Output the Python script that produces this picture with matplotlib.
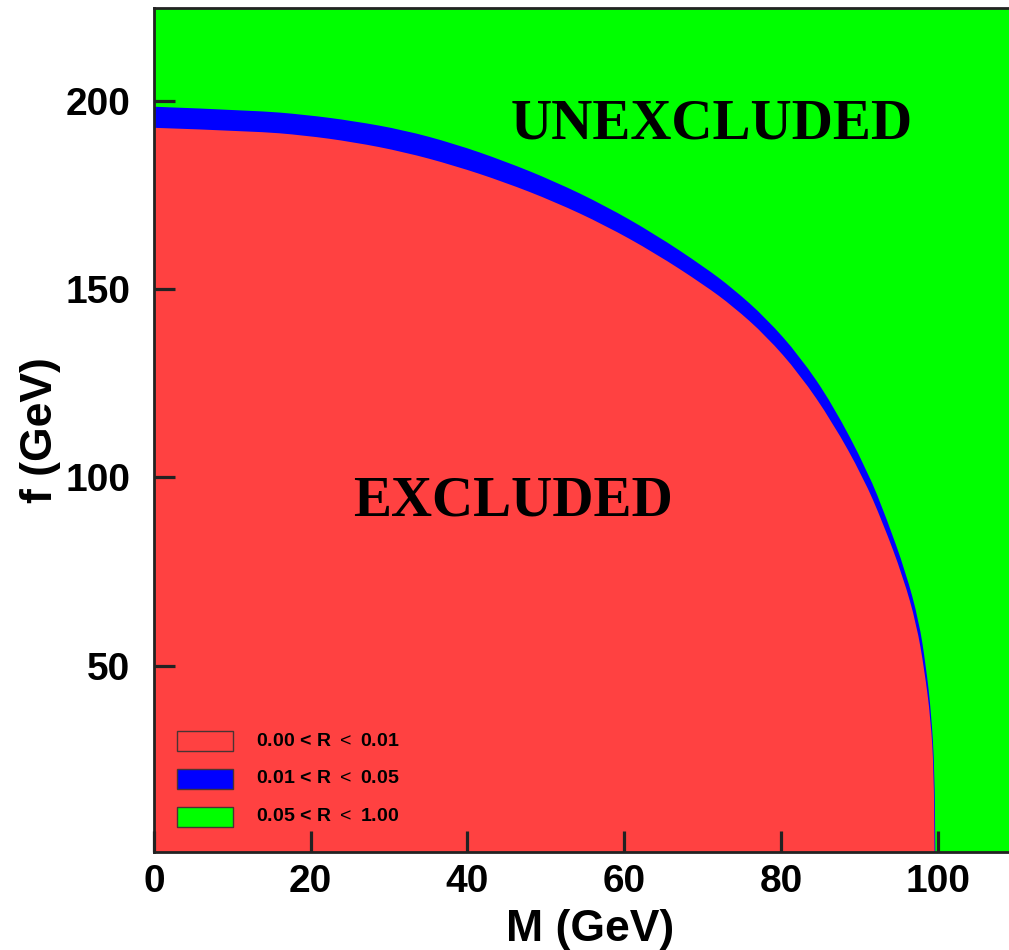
import numpy as np
import matplotlib
matplotlib.use("Agg")
import matplotlib.pyplot as plt
from matplotlib.patches import Rectangle, PathPatch
from matplotlib.path import Path

plt.rcParams["mathtext.fontset"] = "custom"
plt.rcParams["mathtext.rm"] = "Liberation Sans"

# Contour where R = 0.01 (edge of the excluded region)
M_r001 = [0, 12.8, 19.2, 25.5, 31.9, 38.3, 44.7, 51.1, 57.5, 63.9, 70.2, 73.9,
          78.1, 82.4, 86.6, 90.5, 93.0, 95.6, 97.3, 98.3, 99.1, 99.5, 99.6, 99.6]
f_r001 = [192.8, 191.9, 190.8, 189.0, 186.4, 182.8, 178.4, 173.2, 167.0, 159.6,
          151.1, 145.4, 137.6, 127.4, 114.6, 100.0, 88.0, 73.5, 61.0, 49.0,
          36.0, 22.4, 1.2, 0.0]

# Contour where R = 0.05
M_r005 = [0, 12.8, 19.2, 25.5, 31.9, 38.3, 44.7, 51.1, 57.5, 63.9, 70.2, 73.9,
          78.1, 82.4, 86.6, 91.1, 93.5, 95.9, 97.6, 98.5, 99.2, 99.6, 99.7, 99.7]
f_r005 = [198.4, 197.4, 196.3, 194.6, 192.2, 188.6, 184.0, 178.6, 172.2, 164.6,
          155.9, 150.1, 142.3, 132.2, 119.4, 101.5, 89.0, 75.0, 62.0, 50.0,
          37.0, 22.4, 1.2, 0.0]

legend_labels = ["0.00 < R $<$ 0.01", "0.01 < R $<$ 0.05", "0.05 < R $<$ 1.00"]
RED, BLUE, GREEN = "#FF4141", "#0000FF", "#00FF00"
legend_colors = [RED, BLUE, GREEN]

x_ticks = [0, 20, 40, 60, 80, 100]
y_ticks = [50, 100, 150, 200]


def region_below(M, f):
    """Closed region between the axes origin and a contour, drawn with
    quadratic segments through the midpoints of the contour points."""
    pts = np.column_stack([M, f])
    verts = [(0.0, 0.0), tuple(pts[0])]
    codes = [Path.MOVETO, Path.LINETO]
    for i in range(1, len(pts) - 1):
        mid = 0.5 * (pts[i] + pts[i + 1])
        verts += [tuple(pts[i]), tuple(mid)]
        codes += [Path.CURVE3, Path.CURVE3]
    verts += [tuple(pts[-1]), (0.0, 0.0)]
    codes += [Path.LINETO, Path.CLOSEPOLY]
    return Path(verts, codes)


fig = plt.figure(figsize=(10.09, 9.5), dpi=100)
ax = fig.add_axes([154 / 1009, 98 / 950, 855 / 1009, 844 / 950])
ax.set_facecolor(GREEN)

# 0.01 < R < 0.05 band, then the excluded region on top
ax.add_patch(PathPatch(region_below(M_r005, f_r005), facecolor=BLUE, lw=0))
ax.add_patch(PathPatch(region_below(M_r001, f_r001), facecolor=RED, lw=0))

ax.set_xlim(0, 109.1)
ax.set_ylim(0.6, 224.6)

ax.set_xticks(x_ticks)
ax.set_yticks(y_ticks)
ax.tick_params(direction="in", length=15, width=2.3, color="#222222",
               top=False, right=False)
ax.tick_params(axis="x", pad=9)
ax.tick_params(axis="y", pad=17)
for lab in ax.get_xticklabels() + ax.get_yticklabels():
    lab.set_fontfamily("Liberation Sans")
    lab.set_fontweight("bold")
    lab.set_fontsize(28)

for side in ("left", "bottom", "top"):
    ax.spines[side].set_linewidth(2)
    ax.spines[side].set_color("#222222")
ax.spines["right"].set_visible(False)

ax.set_xlabel("M (GeV)", fontfamily="Liberation Sans", fontweight="bold",
              fontsize=32, va="center")
ax.xaxis.set_label_coords(0.51, -0.092)
ax.set_ylabel("f (GeV)", fontfamily="Liberation Sans", fontweight="bold",
              fontsize=32, va="center")
ax.yaxis.set_label_coords(-0.133, 0.5)

ax.text(71.1, 190.0, "UNEXCLUDED", fontfamily="Liberation Serif",
        fontweight="bold", fontsize=41, ha="center", va="baseline")
ax.text(45.8, 90.0, "EXCLUDED", fontfamily="Liberation Serif",
        fontweight="bold", fontsize=41, ha="center", va="baseline")

# Legend boxes
row_y = [0.1315, 0.0865, 0.0415]
for yc, lab, col in zip(row_y, legend_labels, legend_colors):
    ax.add_patch(Rectangle((0.027, yc - 0.0113), 0.0655, 0.0226,
                           transform=ax.transAxes, facecolor=col,
                           edgecolor="#4a3333", lw=1.0))
    ax.text(0.1193, yc, lab, transform=ax.transAxes, fontfamily="Liberation Sans",
            fontweight="bold", fontsize=14, ha="left", va="center")

fig.savefig("out.png", dpi=100)
